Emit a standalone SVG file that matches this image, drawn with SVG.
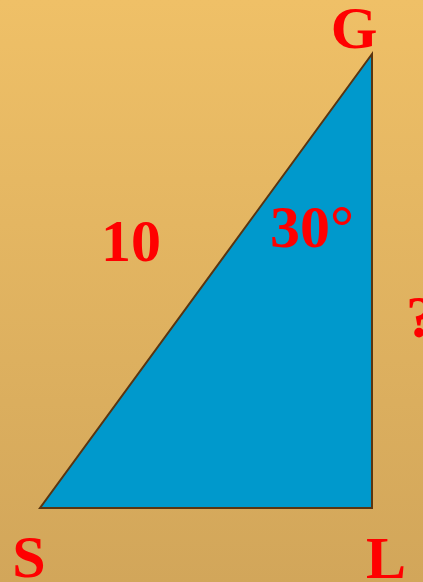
<svg xmlns="http://www.w3.org/2000/svg" width="423" height="582" viewBox="0 0 423 582">
<defs>
<linearGradient id="bg" x1="0" y1="0" x2="0" y2="1">
<stop offset="0" stop-color="#EFC067"/>
<stop offset="1" stop-color="#D2A65A"/>
</linearGradient>
<style>
.lbl{font-family:"Liberation Serif","Times New Roman",serif;font-weight:bold;font-size:60px;fill:#FF0000;text-anchor:middle}
</style>
</defs>
<rect width="423" height="582" fill="url(#bg)"/>
<g id="triangle">
<polygon points="40,508 372,508 372,54" fill="#0099CC" stroke="#5A3510" stroke-width="2" stroke-linejoin="miter"/>
</g>
<g id="label-G"><text class="lbl" x="354" y="48">G</text></g>
<g id="label-10"><text class="lbl" x="131" y="261">10</text></g>
<g id="label-30"><text class="lbl" x="312" y="247">30°</text></g>
<g id="label-S"><text class="lbl" x="29" y="577">S</text></g>
<g id="label-L"><text class="lbl" x="386" y="578">L</text></g>
<g id="label-q"><text class="lbl" x="406" y="337" style="text-anchor:start">?</text></g>
</svg>
